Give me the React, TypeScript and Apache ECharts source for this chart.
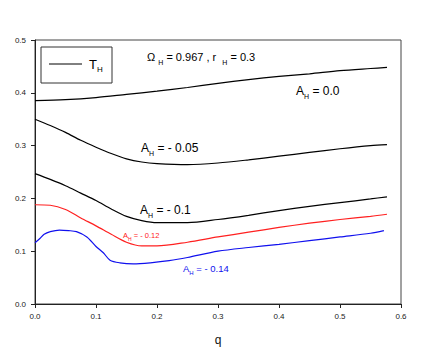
import React, { useEffect, useRef } from "react";
import * as echarts from "echarts";

const qA0 = [0, 0.05, 0.1, 0.15, 0.2, 0.25, 0.3, 0.35, 0.4, 0.45, 0.5, 0.55, 0.577];
const vA0 = [0.385, 0.387, 0.391, 0.397, 0.403, 0.41, 0.418, 0.425, 0.431, 0.436, 0.442, 0.446, 0.448];

const qMid = [0, 0.025, 0.05, 0.075, 0.1, 0.125, 0.15, 0.175, 0.2, 0.25, 0.3, 0.35, 0.4, 0.45, 0.5, 0.55, 0.577];
const vA005 = [0.35, 0.338, 0.325, 0.31, 0.297, 0.285, 0.275, 0.269, 0.266, 0.264, 0.267, 0.273, 0.28, 0.287, 0.294, 0.3, 0.302];
const vA01 = [0.247, 0.236, 0.224, 0.21, 0.196, 0.18, 0.166, 0.158, 0.154, 0.154, 0.16, 0.168, 0.177, 0.185, 0.192, 0.199, 0.203];
const vA012 = [0.188, 0.187, 0.179, 0.163, 0.148, 0.132, 0.117, 0.11, 0.11, 0.117, 0.127, 0.136, 0.145, 0.153, 0.16, 0.166, 0.17];

const qA014 = [0, 0.008, 0.015, 0.025, 0.04, 0.055, 0.068, 0.085, 0.1, 0.112, 0.123, 0.139, 0.161, 0.189, 0.22, 0.25, 0.3, 0.35, 0.4, 0.45, 0.5, 0.55, 0.572];
const vA014 = [0.116, 0.124, 0.132, 0.137, 0.14, 0.139, 0.137, 0.127, 0.109, 0.097, 0.083, 0.078, 0.076, 0.078, 0.082, 0.088, 0.1, 0.107, 0.113, 0.12, 0.127, 0.134, 0.139];

const FONT = "Liberation Sans, Arial, sans-serif";

function zip(q: number[], v: number[]) {
  return q.map((x, i) => [x, v[i]]);
}

function subLabel(x: number, y: number, parts: string[], size: number, color: string) {
  const sub = Math.round(size * 0.6);
  const lh = size + 6;
  const drop = Math.round(size * 0.35);
  const rich: any = {
    a: { fontSize: size, fontFamily: FONT, fill: color, lineHeight: lh },
    s: { fontSize: sub, fontFamily: FONT, fill: color, lineHeight: lh - 2 * drop, verticalAlign: "bottom" },
  };
  let text = "";
  parts.forEach((p, i) => {
    text += i % 2 === 0 ? `{a|${p}}` : `{s|${p}}`;
  });
  return {
    type: "text",
    x,
    y,
    style: { text, rich, fill: color, textVerticalAlign: "middle", font: `${size}px ${FONT}` },
  };
}

function lineSeries(data: number[][], color: string) {
  return {
    type: "line",
    data,
    smooth: 0.3,
    showSymbol: false,
    symbol: "none",
    lineStyle: { color, width: 1.2 },
  };
}

export default function App() {
  const ref = useRef<HTMLDivElement>(null);
  useEffect(() => {
    const chart = echarts.init(ref.current!, undefined, { renderer: "svg" });
    chart.setOption({
      animation: false,
      backgroundColor: "#fff",
      grid: { left: 35, right: 35, top: 40, bottom: 59, show: true, borderColor: "#444", borderWidth: 1 },
      xAxis: {
        type: "value",
        min: 0,
        max: 0.6,
        interval: 0.1,
        name: "q",
        nameLocation: "middle",
        nameGap: 30,
        nameTextStyle: { fontSize: 12, fontFamily: FONT, color: "#111" },
        axisLine: { show: true, lineStyle: { color: "#222", width: 1 } },
        axisTick: { show: true, length: 4, lineStyle: { color: "#222" } },
        axisLabel: { fontSize: 8, fontFamily: FONT, color: "#222", margin: 8, formatter: (v: number) => v.toFixed(1) },
        splitLine: { show: false },
      },
      yAxis: {
        type: "value",
        min: 0,
        max: 0.5,
        interval: 0.1,
        axisLine: { show: true, lineStyle: { color: "#222", width: 1 } },
        axisTick: { show: true, length: 4, lineStyle: { color: "#222" } },
        axisLabel: { fontSize: 8, fontFamily: FONT, color: "#222", margin: 9, formatter: (v: number) => v.toFixed(1) },
        splitLine: { show: false },
      },
      series: [
        lineSeries(zip(qA0, vA0), "#000"),
        lineSeries(zip(qMid, vA005), "#000"),
        lineSeries(zip(qMid, vA01), "#000"),
        lineSeries(zip(qMid, vA012), "#ff2020"),
        lineSeries(zip(qA014, vA014), "#1010ee"),
      ],
      graphic: [
        { type: "rect", shape: { x: 41, y: 47, width: 71, height: 36 }, style: { fill: "#fff", stroke: "#333", lineWidth: 1 } },
        { type: "line", shape: { x1: 49, y1: 64, x2: 82, y2: 64 }, style: { stroke: "#000", lineWidth: 1 } },
        subLabel(89, 64, ["T", "H"], 13, "#000"),
        subLabel(147, 57, ["Ω ", "H", " = 0.967 , r  ", "H", " = 0.3"], 11, "#000"),
        subLabel(296, 91, ["A", "H", " = 0.0"], 12, "#000"),
        subLabel(141, 148, ["A", "H", " = - 0.05"], 12, "#000"),
        subLabel(140, 210, ["A", "H", " = - 0.1"], 12, "#000"),
        subLabel(123, 235, ["A", "H", " = - 0.12"], 7.5, "#ff2020"),
        subLabel(183, 268, ["A", "H", " = - 0.14"], 9.5, "#1010ee"),
      ],
    });
    return () => chart.dispose();
  }, []);
  return <div ref={ref} style={{ width: 436, height: 363, position: "absolute", left: 0, top: 0 }} />;
}
